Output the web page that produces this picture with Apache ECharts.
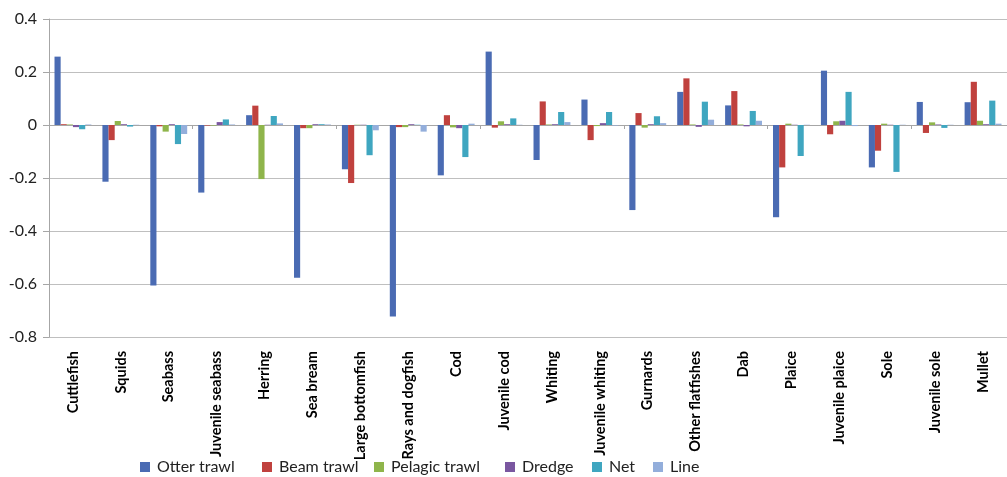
<!DOCTYPE html>
<html>
<head>
<meta charset="utf-8">
<script src="https://cdn.jsdelivr.net/npm/echarts@6/dist/echarts.min.js"></script>
<style>
html,body{margin:0;padding:0;background:#fff;}
#c{width:1007px;height:477px;}
</style>
</head>
<body>
<div id="c"></div>
<script>
var categories = ["Cuttlefish","Squids","Seabass","Juvenile seabass","Herring","Sea bream","Large bottomfish","Rays and dogfish","Cod","Juvenile cod","Whiting","Juvenile whiting","Gurnards","Other flatfishes","Dab","Plaice","Juvenile plaice","Sole","Juvenile sole","Mullet"];
var seriesNames = ["Otter trawl","Beam trawl","Pelagic trawl","Dredge","Net","Line"];
var otterTrawl = [0.258,-0.214,-0.606,-0.255,0.037,-0.576,-0.167,-0.723,-0.19,0.277,-0.132,0.096,-0.321,0.125,0.074,-0.348,0.205,-0.16,0.087,0.086];
var beamTrawl = [0.003,-0.057,-0.005,-0.002,0.073,-0.012,-0.219,-0.008,0.037,-0.01,0.089,-0.057,0.045,0.176,0.128,-0.16,-0.035,-0.097,-0.03,0.163];
var pelagicTrawl = [0.002,0.015,-0.025,-0.002,-0.204,-0.012,0.001,-0.008,-0.009,0.014,0.002,-0.004,-0.01,0.002,0.002,0.005,0.014,0.005,0.01,0.016];
var dredge = [-0.008,0.003,0.003,0.011,0.001,0.003,0.001,0.003,-0.012,0.003,0.003,0.007,0.003,-0.007,-0.005,0.001,0.016,0.001,0.002,0.003];
var net = [-0.016,-0.006,-0.072,0.021,0.034,0.003,-0.114,0.001,-0.121,0.025,0.049,0.049,0.033,0.088,0.053,-0.117,0.125,-0.177,-0.011,0.092];
var line = [0.002,0.001,-0.034,0.002,0.006,0.002,-0.02,-0.025,0.005,0.001,0.011,-0.002,0.007,0.02,0.016,0.001,-0.004,0.001,0.001,0.005];
var yTicks = {min:-0.8, max:0.4, interval:0.2};

var values = [otterTrawl, beamTrawl, pelagicTrawl, dredge, net, line];
var colors = ["#4A6BB3","#C0413E","#8FB54B","#7A57A0","#3FA6C0","#93AEDB"];
var legendLefts = [140, 262, 374, 505, 592, 653];
var font = "Lato, 'Liberation Sans', sans-serif";

var chart = echarts.init(document.getElementById('c'), null, {renderer:'canvas'});
var series = seriesNames.map(function(n,i){
  return {
    name:n, type:'bar', data:values[i], xAxisIndex:0, yAxisIndex:0,
    barGap:'0%', barCategoryGap:'23%',
    itemStyle:{color:colors[i]}, animation:false
  };
});
var legends = seriesNames.map(function(n,i){
  return {
    data:[n], left:legendLefts[i], top:459, itemWidth:10, itemHeight:10,
    icon:'rect', itemGap:0, padding:0,
    textStyle:{fontFamily:font, fontSize:16, color:'#222', padding:[0,0,0,2]}
  };
});
chart.setOption({
  backgroundColor:'#fff',
  animation:false,
  legend:legends,
  grid:{left:49, right:-10, top:19, bottom:140},
  xAxis:[{
    type:'category', data:categories, position:'bottom',
    axisLine:{show:false, onZero:false}, axisTick:{show:false},
    axisLabel:{rotate:90, interval:0, margin:14, fontFamily:font, fontSize:14.5, color:'#000', fontWeight:'bold'}
  },{
    type:'category', data:categories, position:'bottom',
    axisLine:{show:true, onZero:true, lineStyle:{color:'#A6A6A6', width:1}},
    axisTick:{show:true, length:4, inside:false, lineStyle:{color:'#A6A6A6'}},
    axisLabel:{show:false}
  }],
  yAxis:[{
    type:'value', min:yTicks.min, max:yTicks.max, interval:yTicks.interval,
    axisLine:{show:true, lineStyle:{color:'#A6A6A6'}},
    axisTick:{show:true, length:6, lineStyle:{color:'#A6A6A6'}},
    splitLine:{lineStyle:{color:'#BFBFBF', width:1}},
    axisLabel:{fontFamily:font, fontSize:16, color:'#222', margin:12,
      formatter:function(v){ return String(Math.round(v*10)/10); }}
  }],
  series:series
});
</script>
</body>
</html>
